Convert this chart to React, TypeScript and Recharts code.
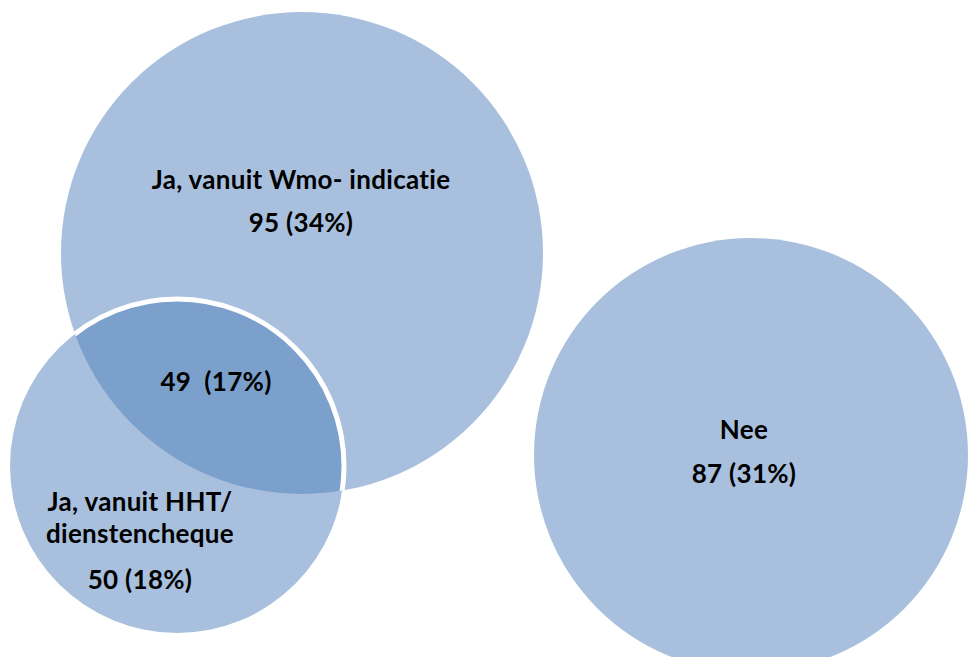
import { Scatter, ScatterChart, XAxis, YAxis } from "recharts";

const W = 969;
const H = 657;

const LIGHT = "#a8c0de";
const DARK = "#7ba0cc";
const FONT = "Lato, 'Noto Sans', sans-serif";

// the three sets and their overlap
const setNames = ["Ja, vanuit Wmo- indicatie", "Ja, vanuit HHT/ dienstencheque", "Nee"];
const setCounts = [95, 50, 87];
const setPercents = [34, 18, 31];
const overlapCount = 49;
const overlapPercent = 17;

// circle layout in chart units (domain equals the plot size, so 1 unit = 1 px)
const circleX = [302, 177, 751];
const circleY = [253, 466, 455];
const circleR = [241, 167, 217];

// label placement: centre x and baseline of each line
const labelCenterX = [301, 140, 744, 216];
const labelBaselines = [[189, 232], [511, 543, 589], [439, 483], [391]];

const xDomain = [0, W];
const unit = W / (xDomain[1] - xDomain[0]);

const circles = setNames.map((name, i) => ({ name, x: circleX[i], y: circleY[i], r: circleR[i] }));

const lens = [{ name: "overlap", x: circleX[1], y: circleY[1], r: circleR[1] }];

const labelLines = [
  ["Ja, vanuit Wmo- indicatie", `${setCounts[0]} (${setPercents[0]}%)`],
  ["Ja, vanuit HHT/", "dienstencheque", `${setCounts[1]} (${setPercents[1]}%)`],
  [setNames[2], `${setCounts[2]} (${setPercents[2]}%)`],
  [`${overlapCount}  (${overlapPercent}%)`]
];

const labels = labelLines.flatMap((lines, i) =>
  lines.map((text, j) => ({ x: labelCenterX[i], y: labelBaselines[i][j], text }))
);

const CircleShape = (props: any) => (
  <circle cx={props.cx} cy={props.cy} r={props.payload.r * unit} fill={LIGHT} />
);

// intersection of the two left circles: small circle clipped by the big one
const LensShape = (props: any) => {
  const clipX = props.cx + (circleX[0] - circleX[1]) * unit;
  const clipY = props.cy + (circleY[0] - circleY[1]) * unit;
  return (
    <g>
      <defs>
        <clipPath id="wmo-clip">
          <circle cx={clipX} cy={clipY} r={circleR[0] * unit} />
        </clipPath>
      </defs>
      <circle
        cx={props.cx}
        cy={props.cy}
        r={props.payload.r * unit}
        fill={DARK}
        stroke="#ffffff"
        strokeWidth={5}
        clipPath="url(#wmo-clip)"
      />
    </g>
  );
};

const LabelShape = (props: any) => (
  <text
    x={props.cx}
    y={props.cy}
    textAnchor="middle"
    fontFamily={FONT}
    fontWeight={700}
    fontSize={26}
    letterSpacing={0.3}
    fill="#000000"
    style={{ whiteSpace: "pre", fontVariantLigatures: "none" }}
  >
    {props.payload.text}
  </text>
);

const App = () => (
  <div style={{ position: "absolute", left: 0, top: 0, background: "#ffffff" }}>
    <ScatterChart width={W} height={H} margin={{ top: 0, right: 0, bottom: 0, left: 0 }}>
      <XAxis type="number" dataKey="x" domain={xDomain} hide />
      <YAxis type="number" dataKey="y" domain={[0, H]} reversed hide />
      <Scatter data={circles} shape={CircleShape} isAnimationActive={false} />
      <Scatter data={lens} shape={LensShape} isAnimationActive={false} />
      <Scatter data={labels} shape={LabelShape} isAnimationActive={false} />
    </ScatterChart>
  </div>
);

export default App;
